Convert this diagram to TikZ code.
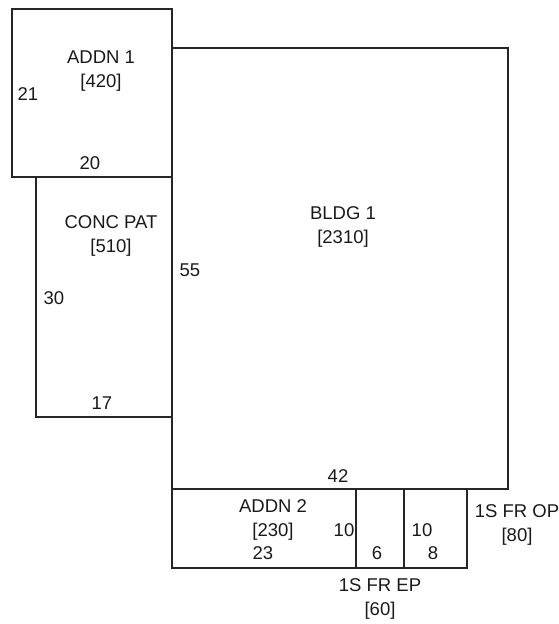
\documentclass[tikz,border=0pt]{standalone}
\usepackage{fontspec}
\setmainfont{Liberation Sans}
\begin{document}
\begin{tikzpicture}[x=1pt,y=-1pt,
  wall/.style={draw=black!85, line width=1.3pt},
  lbl/.style={inner sep=0pt, font=\fontsize{18.5}{24}\selectfont, text=black!90, align=center}]
\useasboundingbox (0,0) rectangle (558,624);
% outlines
\draw[wall] (12,9) rectangle (172,177);
\draw[wall] (36,177) rectangle (172,417);
\draw[wall] (172,48) rectangle (508,489);
\draw[wall] (172,489) rectangle (356,568);
\draw[wall] (356,489) rectangle (404,568);
\draw[wall] (404,489) rectangle (467,568);
% labels
\node[lbl] (addn1) at (101,71) {ADDN 1\\{[420]}};
\node[lbl] (a21) at (28,94) {21};
\node[lbl] (a20) at (90,163) {20};
\node[lbl] (conc) at (111,236) {CONC PAT\\{[510]}};
\node[lbl] (c55) at (190,270) {55};
\node[lbl] (c30) at (54,298) {30};
\node[lbl] (c17) at (102,403) {17};
\node[lbl] (bldg) at (343,227) {BLDG 1\\{[2310]}};
\node[lbl] (b42) at (338,476) {42};
\node[lbl] (addn2) at (273,520) {ADDN 2\\{[230]}};
\node[lbl] (d10a) at (344,530) {10};
\node[lbl] (d23) at (263,553) {23};
\node[lbl] (d6) at (377,553) {6};
\node[lbl] (d10b) at (422,530) {10};
\node[lbl] (d8) at (433,553) {8};
\node[lbl] (op) at (517,525) {1S FR OP\\{[80]}};
\node[lbl] (ep) at (380,599) {1S FR EP\\{[60]}};
\end{tikzpicture}
\end{document}
